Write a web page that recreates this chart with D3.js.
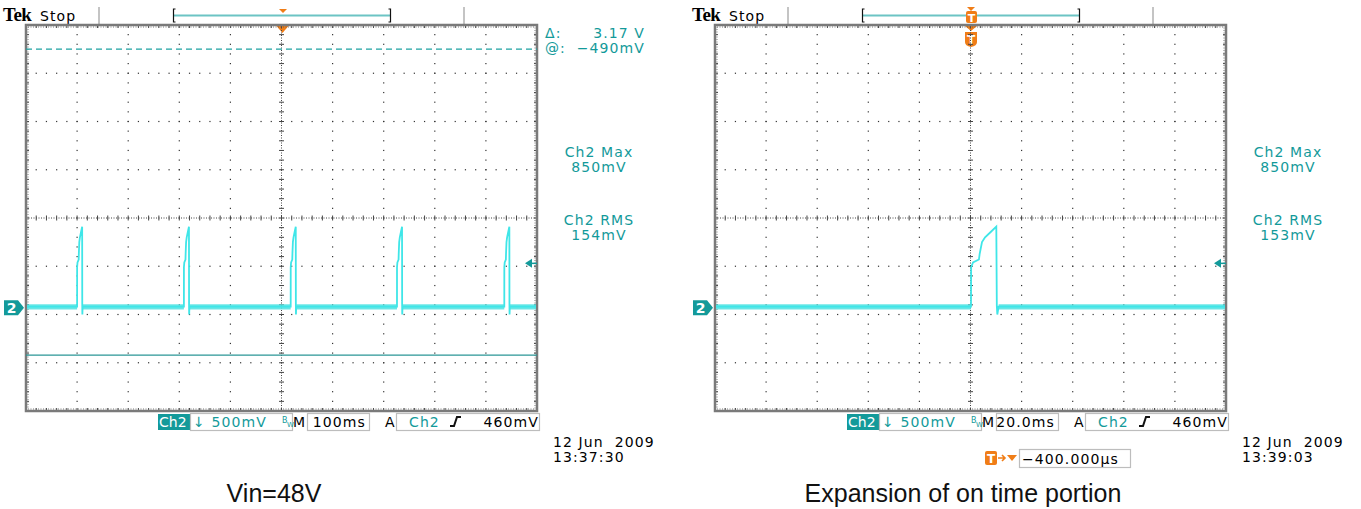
<!DOCTYPE html>
<meta charset="utf-8">
<title>Tek scope captures</title>
<style>
  body { margin: 0; background: #fff; }
  svg { display: block; }
  .tek { font-family: "DejaVu Sans", Verdana, sans-serif; font-size: 14px; letter-spacing: 1.1px; }
  .teal { fill: #139a9a; }
  .cap { font-family: "Liberation Sans", Arial, sans-serif; font-size: 25px; fill: #111; }
</style>
<body>
<svg width="1361" height="509"></svg>

<script src="https://d3js.org/d3.v7.min.js"></script>
<script>

// scope settings (both captures)
var voltsPerDiv = 0.5;
var ch2PositionDiv = -1.86;     // ground marker sits 1.86 div under centre
var timePerDiv = [100, 20];     // ms/div : left, right

// Ch2 trace: baseline and one switching pulse (ms from pulse start, volts)
var baselineV = 0.012;
var noiseBand = [-0.018, 0.036];
var pulseT = [0, 0.05, 0.8, 3.1, 3.4, 4.3, 5.5, 7.5, 9.9, 10.1, 10.3, 10.8];
var pulseV = [0.012, 0.42, 0.47, 0.50, 0.56, 0.68, 0.73, 0.78, 0.84, 0.02, -0.07, 0.012];

// pulse start times in each capture (ms)
var leftPulseStarts = [-400, -191, 18, 226, 436];
var rightPulseStarts = [0.2];

// cursors (left capture only) and trigger
var cursorLevels = [2.68, -0.49];
var cursorLabels = ["Δ:", "@:"];
var cursorValues = ["3.17 V", "−490mV"];
var triggerLevel = 0.46;

// readouts and status texts
var measureLabels = ["Ch2 Max", "Ch2 RMS"];
var leftMeasures = ["850mV", "154mV"];
var rightMeasures = ["850mV", "153mV"];
var timebaseText = ["100ms", "20.0ms"];
var dateText = ["12 Jun  2009", "12 Jun  2009"];
var clockText = ["13:37:30", "13:39:03"];
var delayText = "−400.000µs";
var captions = ["Vin=48V", "Expansion of on time portion"];

var svg = d3.select("svg");
var W = 511, H = 386, sx = 26, sy = 25;
var orange = "#f07d17", tealDark = "#139a9a", traceCol = "#3fe6e8";

svg.append("rect").attr("width", 1361).attr("height", 509).attr("fill", "#fff");

function drawPanel(p) {
  var g = svg.append("g").attr("transform", "translate(" + p.ox + ",0)");

  var x = d3.scaleLinear().domain([-5 * p.tpd, 5 * p.tpd]).range([sx, sx + W]);
  var y = d3.scaleLinear()
    .domain([(-4 - ch2PositionDiv) * voltsPerDiv, (4 - ch2PositionDiv) * voltsPerDiv])
    .range([sy + H, sy]);

  // ---- header
  g.append("text").attr("x", 3).attr("y", 21)
    .style("font-family", "'Liberation Serif', serif").style("font-weight", "bold")
    .style("font-size", "19px").style("letter-spacing", "-0.5px").text("Tek");
  g.append("text").attr("class", "tek").attr("x", 40).attr("y", 21).text("Stop");
  [99, 464].forEach(function (xx) {
    g.append("line").attr("x1", xx).attr("x2", xx).attr("y1", 7).attr("y2", 24)
      .attr("stroke", "#c4c4c4").attr("stroke-width", 2);
  });
  g.append("line").attr("x1", 174).attr("x2", 390).attr("y1", 15.5).attr("y2", 15.5)
    .attr("stroke", "#6cc4c4").attr("stroke-width", 2);
  g.append("path").attr("d", "M175.5,9 H173.5 V22 H175.5 M388.5,9 H390.5 V22 H388.5")
    .attr("fill", "none").attr("stroke", "#111").attr("stroke-width", 1.2);

  if (p.tmarker) {
    g.append("path").attr("d", "M278,7 H286 L282,11 Z").attr("fill", orange);
    g.append("rect").attr("x", 277).attr("y", 11).attr("width", 11).attr("height", 12).attr("rx", 2).attr("fill", orange);
    g.append("text").attr("x", 282.5).attr("y", 21.5).attr("text-anchor", "middle")
      .style("font", "bold 11px 'DejaVu Sans'").attr("fill", "#fff").text("T");
    g.append("path").attr("d", "M276,26 H288 L282,31 Z").attr("fill", orange);
    g.append("path").attr("d", "M276,32 H288 V42 Q288,46 282,47 Q276,46 276,42 Z").attr("fill", orange);
    g.append("text").attr("x", 282).attr("y", 44).attr("text-anchor", "middle")
      .style("font", "bold 12px 'DejaVu Sans'").attr("fill", "#fff").text("T");
  } else {
    g.append("path").attr("d", "M279,9 H287 L283,13 Z").attr("fill", orange);
    g.append("path").attr("d", "M276.5,26 H288.5 L282.5,33 Z").attr("fill", orange);
  }

  // ---- graticule
  var grat = g.append("g");
  var dx = W / 10, dy = H / 8;
  var dots = [];
  for (var i = 1; i < 10; i++) if (i !== 5) for (var k = 1; k < 40; k++) dots.push([sx + i * dx, sy + k * dy / 5]);
  for (var j = 1; j < 8; j++) if (j !== 4) for (var k2 = 1; k2 < 50; k2++) dots.push([sx + k2 * dx / 5, sy + j * dy]);
  grat.selectAll(".dot").data(dots).enter().append("rect")
    .attr("x", function (d) { return d[0] - 0.6; }).attr("y", function (d) { return d[1] - 0.6; })
    .attr("width", 1.2).attr("height", 1.2).attr("fill", "#333");

  var cx = sx + 5 * dx, cy = sy + 4 * dy;
  grat.append("line").attr("x1", cx).attr("x2", cx).attr("y1", sy).attr("y2", sy + H)
    .attr("stroke", "#444").attr("stroke-dasharray", "1,1.5");
  grat.append("line").attr("x1", sx).attr("x2", sx + W).attr("y1", cy).attr("y2", cy)
    .attr("stroke", "#444").attr("stroke-dasharray", "1,1.5");
  var ticks = [];
  for (var a = 1; a < 40; a++) ticks.push([cx - 2.5, sy + a * dy / 5, cx + 2.5, sy + a * dy / 5]);
  for (var b = 1; b < 50; b++) ticks.push([sx + b * dx / 5, cy - 2.5, sx + b * dx / 5, cy + 2.5]);
  // border ticks
  for (var c = 1; c < 50; c++) {
    ticks.push([sx + c * dx / 5, sy, sx + c * dx / 5, sy + 3]);
    ticks.push([sx + c * dx / 5, sy + H, sx + c * dx / 5, sy + H - 3]);
  }
  for (var e = 1; e < 40; e++) {
    ticks.push([sx, sy + e * dy / 5, sx + 3, sy + e * dy / 5]);
    ticks.push([sx + W, sy + e * dy / 5, sx + W - 3, sy + e * dy / 5]);
  }
  grat.selectAll(".tk").data(ticks).enter().append("line")
    .attr("x1", function (d) { return d[0]; }).attr("y1", function (d) { return d[1]; })
    .attr("x2", function (d) { return d[2]; }).attr("y2", function (d) { return d[3]; })
    .attr("stroke", "#444").attr("stroke-width", 1);
  grat.append("rect").attr("x", sx + 2).attr("y", sy + 2).attr("width", W - 4).attr("height", H - 4)
    .attr("fill", "none").attr("stroke", "#555").attr("stroke-width", 0.8).attr("stroke-dasharray", "1,1.5");
  grat.append("rect").attr("x", sx).attr("y", sy).attr("width", W).attr("height", H)
    .attr("fill", "none").attr("stroke", "#7a7a7a").attr("stroke-width", 2.5);

  // ---- cursors
  if (p.cursors) {
    g.append("line").attr("x1", sx).attr("x2", sx + W).attr("y1", y(cursorLevels[0])).attr("y2", y(cursorLevels[0]))
      .attr("stroke", "#1fa2a2").attr("stroke-width", 1.2).attr("stroke-dasharray", "6,4");
    g.append("line").attr("x1", sx).attr("x2", sx + W).attr("y1", y(cursorLevels[1])).attr("y2", y(cursorLevels[1]))
      .attr("stroke", "#2a9696").attr("stroke-width", 1.3);
    cursorLabels.forEach(function (lab, i) {
      g.append("text").attr("class", "tek teal").attr("x", 545).attr("y", 38 + i * 15).text(lab);
      g.append("text").attr("class", "tek teal").attr("x", 645).attr("y", 38 + i * 15)
        .attr("text-anchor", "end").text(cursorValues[i]);
    });
  }

  // ---- trace
  var clipId = "clip" + p.ox;
  g.append("clipPath").attr("id", clipId).append("rect")
    .attr("x", sx + 1).attr("y", sy + 1).attr("width", W - 2).attr("height", H - 2);
  var tr = g.append("g").attr("clip-path", "url(#" + clipId + ")");

  var t0 = -5 * p.tpd, t1 = 5 * p.tpd, pEnd = pulseT[pulseT.length - 1];
  var segs = [], from = t0;
  p.starts.forEach(function (s) { segs.push([from, s]); from = s + pEnd; });
  segs.push([from, t1]);
  tr.selectAll(".band").data(segs).enter().append("rect")
    .attr("x", function (d) { return x(d[0]); })
    .attr("width", function (d) { return Math.max(0, x(d[1]) - x(d[0])); })
    .attr("y", y(noiseBand[1])).attr("height", y(noiseBand[0]) - y(noiseBand[1]))
    .attr("fill", "#4fe2e2").attr("opacity", 0.85);

  var pts = [[t0, baselineV]];
  p.starts.forEach(function (s) {
    pulseT.forEach(function (t, i) { pts.push([s + t, pulseV[i]]); });
  });
  pts.push([t1, baselineV]);
  tr.append("path").datum(pts)
    .attr("d", d3.line().x(function (d) { return x(d[0]); }).y(function (d) { return y(d[1]); }))
    .attr("fill", "none").attr("stroke", traceCol).attr("stroke-width", 1.8);

  // trigger level arrow
  var ty = y(triggerLevel);
  g.append("path").attr("d", "M" + (sx + W - 12) + "," + ty + " L" + (sx + W - 5) + "," + (ty - 4.5) + " V" + (ty + 4.5) + " Z")
    .attr("fill", tealDark);
  g.append("line").attr("x1", sx + W - 6).attr("x2", sx + W).attr("y1", ty).attr("y2", ty)
    .attr("stroke", tealDark).attr("stroke-width", 1.5);

  // channel ground marker
  var gy = y(0);
  g.append("path").attr("d", "M4," + (gy - 7.5) + " H18 L24," + gy + " L18," + (gy + 7.5) + " H4 Z")
    .attr("fill", tealDark);
  g.append("text").attr("x", 11.5).attr("y", gy + 5).attr("text-anchor", "middle")
    .style("font", "bold 14px 'DejaVu Sans'").attr("fill", "#fff").text("2");

  // ---- measurements
  measureLabels.forEach(function (lab, i) {
    g.append("text").attr("class", "tek teal").attr("x", 599).attr("y", 157 + i * 68)
      .attr("text-anchor", "middle").text(lab);
    g.append("text").attr("class", "tek teal").attr("x", 599).attr("y", 172 + i * 68)
      .attr("text-anchor", "middle").text(p.measures[i]);
  });

  // ---- status bar
  g.append("rect").attr("x", 158).attr("y", 414).attr("width", 32).attr("height", 16).attr("fill", tealDark);
  g.append("text").attr("class", "tek").attr("x", 159).attr("y", 427).attr("fill", "#fff")
    .style("letter-spacing", "0px").text("Ch2");
  [[190.5, 102], [307.5, 62], [396.5, 143]].forEach(function (bx) {
    g.append("rect").attr("x", bx[0]).attr("y", 413.5).attr("width", bx[1]).attr("height", 17)
      .attr("fill", "none").attr("stroke", "#bdbdbd").attr("stroke-width", 1.2);
  });
  g.append("text").attr("class", "tek teal").attr("x", 193).attr("y", 427).text("↓ 500mV");
  g.append("text").attr("class", "teal").attr("x", 282).attr("y", 423)
    .style("font", "8px 'DejaVu Sans'").text("B");
  g.append("text").attr("class", "teal").attr("x", 287).attr("y", 427)
    .style("font", "7px 'DejaVu Sans'").text("W");
  g.append("text").attr("class", "tek").attr("x", 293).attr("y", 427).style("letter-spacing", "0px").text("M");
  g.append("text").attr("class", "tek").attr("x", 366).attr("y", 427).attr("text-anchor", "end").text(p.timebase);
  g.append("text").attr("class", "tek").attr("x", 385).attr("y", 427).text("A");
  g.append("text").attr("class", "tek teal").attr("x", 409).attr("y", 427).text("Ch2");
  g.append("path").attr("d", "M450,426 H454 L457,417 H461").attr("fill", "none")
    .attr("stroke", "#111").attr("stroke-width", 2);
  g.append("text").attr("class", "tek").attr("x", 539).attr("y", 427).attr("text-anchor", "end").text("460mV");

  g.append("text").attr("class", "tek").attr("x", 553).attr("y", 447).style("white-space", "pre").text(p.date);
  g.append("text").attr("class", "tek").attr("x", 553).attr("y", 462).text(p.clock);

  if (p.delay) {
    g.append("rect").attr("x", 296).attr("y", 451).attr("width", 12).attr("height", 14).attr("rx", 2).attr("fill", orange);
    g.append("text").attr("x", 302).attr("y", 463).attr("text-anchor", "middle")
      .style("font", "bold 12px 'DejaVu Sans'").attr("fill", "#fff").text("T");
    g.append("path").attr("d", "M309,458 H316 M313,455 L316,458 L313,461").attr("fill", "none")
      .attr("stroke", orange).attr("stroke-width", 1.6);
    g.append("path").attr("d", "M318,455 H328 L323,461 Z").attr("fill", orange);
    g.append("rect").attr("x", 330.5).attr("y", 449.5).attr("width", 111).attr("height", 18)
      .attr("fill", "none").attr("stroke", "#bdbdbd").attr("stroke-width", 1.2);
    g.append("text").attr("class", "tek").attr("x", 333).attr("y", 464).text(p.delay);
  }

  g.append("text").attr("class", "cap").attr("x", 274).attr("y", 502).attr("text-anchor", "middle").text(p.caption);
}

drawPanel({ ox: 0, tpd: timePerDiv[0], starts: leftPulseStarts, cursors: true, tmarker: false,
  measures: leftMeasures, timebase: timebaseText[0], date: dateText[0], clock: clockText[0], caption: captions[0] });
drawPanel({ ox: 689, tpd: timePerDiv[1], starts: rightPulseStarts, cursors: false, tmarker: true,
  measures: rightMeasures, timebase: timebaseText[1], date: dateText[1], clock: clockText[1],
  delay: delayText, caption: captions[1] });

</script>
</body>
